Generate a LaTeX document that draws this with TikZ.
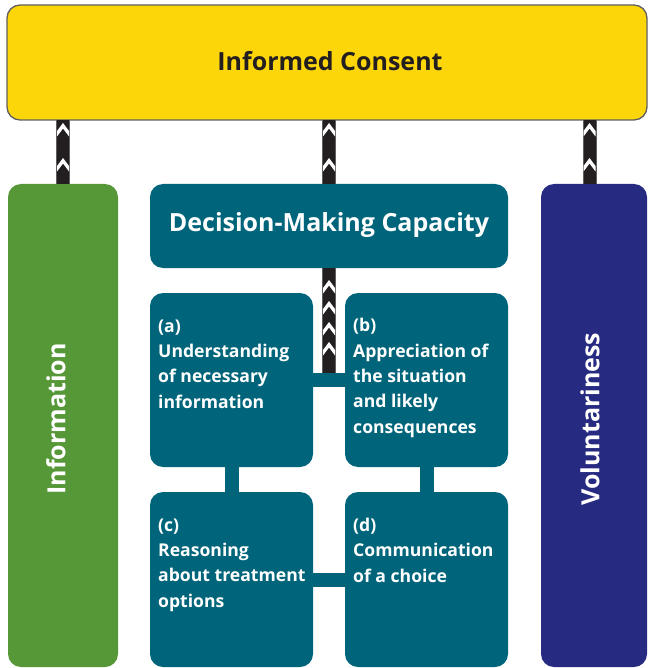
\documentclass[tikz,border=0pt]{standalone}
\usepackage{fontspec}
\setmainfont{Open Sans}
\usetikzlibrary{calc,decorations.markings}
\definecolor{icyellow}{RGB}{253,214,10}
\definecolor{icgreen}{RGB}{86,152,56}
\definecolor{icteal}{RGB}{0,101,122}
\definecolor{icblue}{RGB}{38,42,128}
\definecolor{icdark}{RGB}{35,31,32}
\definecolor{icgray}{RGB}{95,95,95}
\newcommand\icchev{\fill[white] (0pt,0pt) -- (8pt,6pt) -- (13.5pt,6pt) -- (5.5pt,0pt) -- (13.5pt,-6pt) -- (8pt,-6pt) -- cycle;}
\begin{document}
\begin{tikzpicture}[x=1pt,y=-1pt,
  panel/.style={rounded corners=13pt, inner sep=0pt, outer sep=0pt, anchor=north west},
  tealpanel/.style={panel, fill=icteal},
  boxtext/.style={text=white, font=\bfseries\fontsize{17.6}{25.3}\selectfont, align=left, inner sep=0pt, anchor=base west},
  tealbar/.style={icteal, line width=14pt},
  stripe/.style={icgray, line width=14pt, postaction={draw=icdark, line width=12pt}},
  chevtop/.style={postaction={decorate, decoration={markings,
      mark=at position 3pt with {\icchev}, mark=at position 38pt with {\icchev}}}},
  chevlow/.style={postaction={decorate, decoration={markings,
      mark=at position 12pt with {\icchev}, mark=at position 33pt with {\icchev},
      mark=at position 54pt with {\icchev}, mark=at position 74pt with {\icchev}}}}
]
\useasboundingbox (0,0) rectangle (648,668);
% main panels
\node[panel, fill=icyellow, draw=icgray, line width=1.3pt, minimum width=640pt, minimum height=115pt] (consent) at (7,5) {};
\node[text=icdark, font=\bfseries\fontsize{25}{29}\selectfont] (consenttxt) at (330,61) {Informed Consent};
\node[panel, fill=icgreen, minimum width=110pt, minimum height=483pt] (info) at (8,184) {};
\node[panel, fill=icblue, minimum width=106pt, minimum height=483pt] (vol) at (541,184) {};
\node[tealpanel, minimum width=358pt, minimum height=84pt] (dmc) at (150,184) {};
\node[text=white, font=\bfseries\fontsize{25}{29}\selectfont] (dmctxt) at (329,225) {Decision-Making Capacity};
\node[text=white, rotate=90, font=\bfseries\fontsize{25}{28}\selectfont] (infotxt) at (56,419) {Information};
\node[text=white, rotate=90, font=\bfseries\fontsize{25}{28}\selectfont] (voltxt) at (590,419) {Voluntariness};
% sub panels
\node[tealpanel, minimum width=163pt, minimum height=174pt] (a) at (150,293) {};
\node[tealpanel, minimum width=163pt, minimum height=174pt] (b) at (345,293) {};
\node[tealpanel, minimum width=163pt, minimum height=175pt] (c) at (150,492) {};
\node[tealpanel, minimum width=163pt, minimum height=175pt] (d) at (345,492) {};
% striped connectors
\draw[stripe, chevtop] (consent.south -| info.north) -- (info.north);
\draw[stripe, chevtop] (consent.south -| dmc.north) -- (dmc.north);
\draw[stripe, chevtop] (consent.south -| 589.5,0) -- ([xshift=-4.5pt]vol.north);
\draw[stripe, chevlow] (dmc.south) -- (dmc.south |- a.east);
% teal connectors
\draw[tealbar] (a.east) -- (b.west);
\draw[tealbar] (c.east) -- (d.west);
\draw[tealbar] (a.south) -- (c.north);
\draw[tealbar] (b.south) -- (d.north);
% texts (anchored at the baseline of the last line)
\node[boxtext] (atxt) at ($(a.north west)+(8,115)$) {(a)\\Understanding\\of necessary\\information};
\node[boxtext] (btxt) at ($(b.north west)+(8,140)$) {(b)\\Appreciation of\\the situation\\and likely\\consequences};
\node[boxtext] (ctxt) at ($(c.north west)+(8,115)$) {(c)\\Reasoning\\about treatment\\options};
\node[boxtext] (dtxt) at ($(d.north west)+(8,90)$) {(d)\\Communication\\of a choice};
\end{tikzpicture}
\end{document}
